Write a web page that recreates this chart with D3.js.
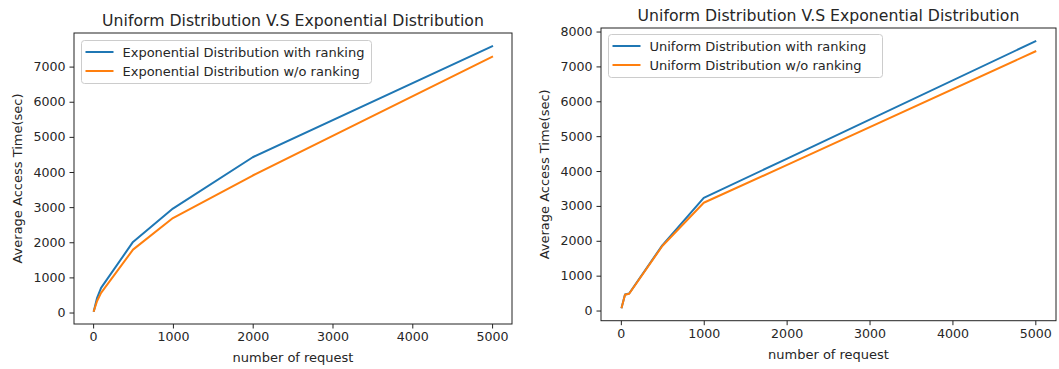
<!DOCTYPE html>
<html>
<head>
<meta charset="utf-8">
<script src="https://cdn.jsdelivr.net/npm/d3@7"></script>
<style>
  html, body { margin: 0; padding: 0; background: #fff; }
  svg { display: block; font-family: "DejaVu Sans", sans-serif; }
</style>
</head>
<body>
<svg id="chart" width="1059" height="369"></svg>
<script>
// ---- data ----
const requests = [10, 50, 100, 500, 1000, 2000, 5000];
const expWithRanking = [50, 420, 700, 2010, 2960, 4420, 7580];
const expWithoutRanking = [50, 330, 560, 1790, 2690, 3900, 7280];
const uniWithRanking = [90, 460, 490, 1870, 3230, 4350, 7720];
const uniWithoutRanking = [90, 450, 480, 1850, 3090, 4170, 7430];
const xTicks = [0, 1000, 2000, 3000, 4000, 5000];
const yTicksLeft = [0, 1000, 2000, 3000, 4000, 5000, 6000, 7000];
const yTicksRight = [0, 1000, 2000, 3000, 4000, 5000, 6000, 7000, 8000];
const titleText = "Uniform Distribution V.S Exponential Distribution";
const xLabel = "number of request";
const yLabel = "Average Access Time(sec)";
const leftLabels = ["Exponential Distribution with ranking", "Exponential Distribution w/o ranking"];
const rightLabels = ["Uniform Distribution with ranking", "Uniform Distribution w/o ranking"];
const colors = ["#1f77b4", "#ff7f0e"];

const svg = d3.select("#chart");
const textColor = "#262626";
const tickFont = 12.6;
const labelFont = 13;

function padded(values) {
  const mn = d3.min(values), mx = d3.max(values);
  const p = (mx - mn) * 0.05;
  return [mn - p, mx + p];
}

function panel(cfg) {
  const g = svg.append("g");
  const x = d3.scaleLinear().domain(padded(requests)).range([cfg.left, cfg.right]);
  const y = d3.scaleLinear().domain(padded(cfg.series.flat())).range([cfg.bottom, cfg.top]);

  const xAxis = d3.axisBottom(x).tickValues(xTicks).tickSize(4.5).tickPadding(4).tickFormat(d3.format("d"));
  const yAxis = d3.axisLeft(y).tickValues(cfg.yTicks).tickSize(4.5).tickPadding(4).tickFormat(d3.format("d"));
  const gx = g.append("g").attr("transform", `translate(0,${cfg.bottom})`).call(xAxis);
  const gy = g.append("g").attr("transform", `translate(${cfg.left},0)`).call(yAxis);
  [gx, gy].forEach(a => {
    a.select(".domain").remove();
    a.selectAll(".tick line").attr("stroke", "#222").attr("stroke-width", 1);
    a.selectAll(".tick text").attr("fill", textColor).attr("font-size", tickFont)
      .attr("font-family", "DejaVu Sans");
  });

  const line = d3.line().x((d, i) => x(requests[i])).y(d => y(d));
  cfg.series.forEach((s, k) => {
    g.append("path").datum(s).attr("d", line).attr("fill", "none")
      .attr("stroke", colors[k]).attr("stroke-width", 2).attr("stroke-linejoin", "round")
      .attr("stroke-linecap", "square");
  });

  g.append("rect").attr("x", cfg.left).attr("y", cfg.top)
    .attr("width", cfg.right - cfg.left).attr("height", cfg.bottom - cfg.top)
    .attr("fill", "none").attr("stroke", "#222").attr("stroke-width", 1);

  g.append("text").attr("x", (cfg.left + cfg.right) / 2).attr("y", cfg.top - 7)
    .attr("text-anchor", "middle").attr("font-size", 15.7).attr("fill", textColor).text(titleText);
  g.append("text").attr("x", (cfg.left + cfg.right) / 2).attr("y", cfg.bottom + 38)
    .attr("text-anchor", "middle").attr("font-size", labelFont).attr("fill", textColor).text(xLabel);
  g.append("text").attr("transform", `translate(${cfg.ylabelX},${(cfg.top + cfg.bottom) / 2}) rotate(-90)`)
    .attr("text-anchor", "middle").attr("dominant-baseline", "central")
    .attr("font-size", labelFont).attr("fill", textColor).text(yLabel);

  const L = cfg.legend;
  g.append("rect").attr("x", L.x).attr("y", L.y).attr("width", L.w).attr("height", L.h)
    .attr("rx", 3).attr("fill", "#fff").attr("fill-opacity", 0.8)
    .attr("stroke", "#cccccc").attr("stroke-width", 1);
  cfg.labels.forEach((lab, k) => {
    const yy = L.y + 11.5 + k * 19;
    g.append("line").attr("x1", L.x + 4).attr("x2", L.x + 32).attr("y1", yy).attr("y2", yy)
      .attr("stroke", colors[k]).attr("stroke-width", 2);
    g.append("text").attr("x", L.x + 41).attr("y", yy).attr("dominant-baseline", "central")
      .attr("font-size", labelFont).attr("fill", textColor).text(lab);
  });
}

panel({
  left: 74, right: 512, top: 33, bottom: 324,
  series: [expWithRanking, expWithoutRanking],
  yTicks: yTicksLeft, labels: leftLabels, ylabelX: 17,
  legend: { x: 81.5, y: 40.5, w: 290, h: 43 }
});
panel({
  left: 601, right: 1056, top: 28, bottom: 320.7,
  series: [uniWithRanking, uniWithoutRanking],
  yTicks: yTicksRight, labels: rightLabels, ylabelX: 544,
  legend: { x: 608.5, y: 34.5, w: 274, h: 43 }
});
</script>
</body>
</html>
